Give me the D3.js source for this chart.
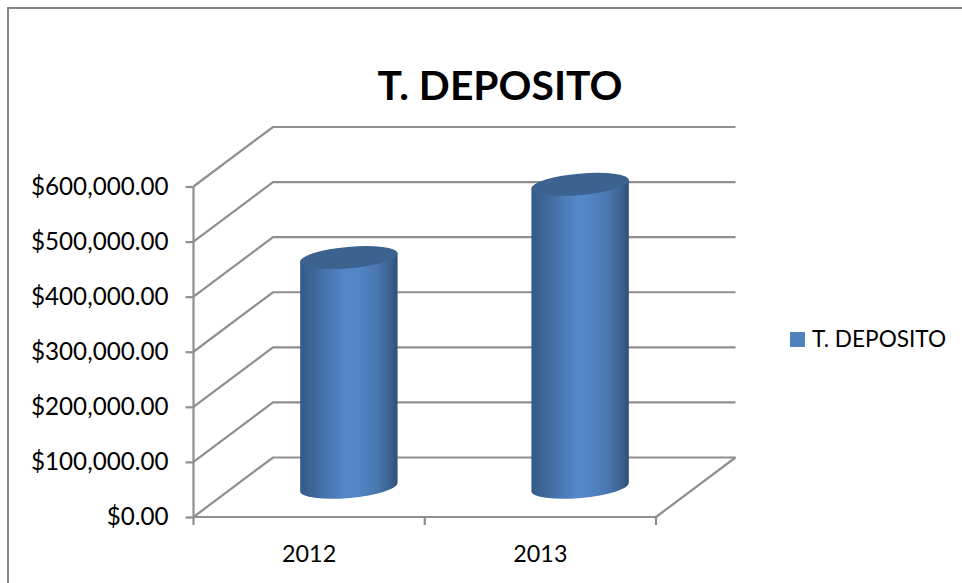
<!DOCTYPE html>
<html>
<head>
<meta charset="utf-8">
<script src="https://cdnjs.cloudflare.com/ajax/libs/d3/7.8.5/d3.min.js"></script>
<style>
    html, body { margin: 0; background: #fff; }
    text { font-family: Lato, "Open Sans", sans-serif; fill: #000; }
    .grid { fill: none; stroke: #8f8f8f; stroke-width: 2.2; }
    .axis path, .axis line { stroke: #8f8f8f; stroke-width: 2.2; }
    .y-axis text { font-size: 24.2px; }
    .x-axis text { font-size: 23.3px; }
</style>
</head>
<body>
<div id="chart"></div>
<script>
const chartTitle = 'T. DEPOSITO';
const years = ['2012', '2013'];
const deposits = [417000, 550000];
const yTicks = [0, 100000, 200000, 300000, 400000, 500000, 600000];

const width = 962, height = 583;

// Front plane of the 3D box, depth is a fixed shift toward the back
const front = {left: 193.5, right: 656, bottom: 517, top: 186.5};
const depth = {x: 79.5, y: -59.5};

const xScale = d3.scaleBand().domain(years).range([front.left, front.right]);
const yScale = d3.scaleLinear().domain([0, 600000]).range([front.bottom, front.top]);

// Cylinder cap measures
const capTilt = -5.1, capRx = 48.9, capRy = 10.7;

const svg = d3.select('#chart').append('svg')
    .attr('width', width)
    .attr('height', height)
    .style('display', 'block');

// Side shading of the cylinders
const gradient = svg.append('defs').append('linearGradient')
    .attr('id', 'cylinder');
[[0, '#335a88'], [0.13, '#3c6698'], [0.32, '#4a7ab5'], [0.47, '#5488cb'], [0.6, '#5285c6'],
 [0.8, '#4875ad'], [0.93, '#3a618f'], [1, '#2e4f78']].forEach(([offset, color]) => {
    gradient.append('stop').attr('offset', offset).attr('stop-color', color);
});

// Outer chart border, only top and left are in the picture
svg.append('path')
    .attr('d', `M8,${height} V8 H${width}`)
    .attr('fill', 'none')
    .attr('stroke', '#868686')
    .attr('stroke-width', 2);

svg.append('text')
    .attr('x', 500)
    .attr('y', 100)
    .attr('text-anchor', 'middle')
    .style('font-size', '40.8px')
    .style('font-weight', 700)
    .text(chartTitle);

// Wall gridlines: slanted side wall plus back wall
svg.selectAll('.grid')
    .data(yTicks)
    .join('path')
        .attr('class', 'grid')
        .attr('d', d => {
            const y = yScale(d);
            return `M${front.left},${y} L${front.left + depth.x},${y + depth.y} H${front.right + depth.x}`;
        });

// Right edge of the floor
svg.append('path')
    .attr('class', 'grid')
    .attr('d', `M${front.right},${front.bottom} L${front.right + depth.x},${front.bottom + depth.y}`);

// Axes
const yAxis = d3.axisLeft(yScale)
    .tickValues(yTicks)
    .tickSize(8)
    .tickPadding(17)
    .tickFormat(d3.format('$,.2f'));
svg.append('g')
    .attr('class', 'axis y-axis')
    .attr('transform', `translate(${front.left},0)`)
    .call(yAxis)
    .call(g => g.select('.domain').attr('d', `M0,${front.top} V${front.bottom}`));

const xAxis = d3.axisBottom(xScale)
    .tickSize(0)
    .tickPadding(28);
svg.append('g')
    .attr('class', 'axis x-axis')
    .attr('transform', `translate(0,${front.bottom})`)
    .call(xAxis)
    .call(g => g.select('.domain').attr('d', `M${front.left},0 H${front.right}`))
    .call(g => g.selectAll('.edge')
        .data([front.left, xScale('2013'), front.right])
        .join('line')
            .attr('class', 'edge')
            .attr('x1', d => d).attr('x2', d => d)
            .attr('y1', 0).attr('y2', 8));

// Cylinders sit halfway into the depth of the box
const cx = d => xScale(d) + xScale.bandwidth() / 2 + depth.x / 2;
const baseY = front.bottom + depth.y / 2;
const topY = i => yScale(deposits[i]) + depth.y / 2;
const rad = capTilt * Math.PI / 180;
const endX = capRx * Math.cos(rad), endY = capRx * Math.sin(rad);

const bars = svg.selectAll('.bar')
    .data(years)
    .join('g')
        .attr('class', 'bar');

bars.append('path')
    .attr('fill', 'url(#cylinder)')
    .attr('d', (d, i) => {
        const x = cx(d);
        return `M${x - endX},${topY(i) - endY} L${x - endX},${baseY - endY}
            A${capRx},${capRy} ${capTilt} 0 0 ${x + endX},${baseY + endY}
            L${x + endX},${topY(i) + endY} Z`;
    });

bars.append('ellipse')
    .attr('rx', capRx)
    .attr('ry', capRy)
    .attr('fill', '#3c6390')
    .attr('transform', (d, i) => `translate(${cx(d)},${topY(i)}) rotate(${capTilt})`);

// Legend
const legend = svg.append('g').attr('transform', 'translate(790,332)');
legend.append('rect')
    .attr('width', 15)
    .attr('height', 15)
    .attr('fill', '#4f81bd');
legend.append('text')
    .attr('x', 22)
    .attr('y', 15)
    .style('font-size', '22.6px')
    .text(chartTitle);
</script>
</body>
</html>
